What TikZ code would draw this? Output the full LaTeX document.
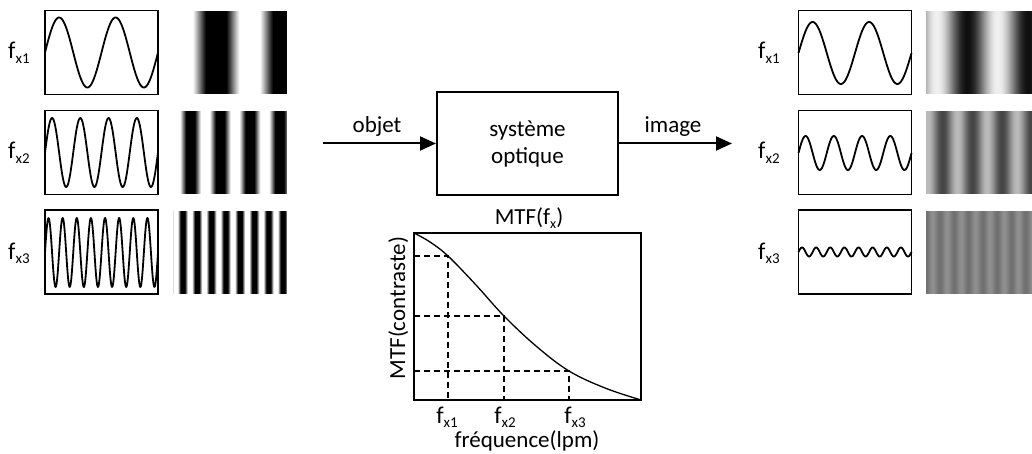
\documentclass[tikz,border=0pt]{standalone}
\usepackage{fontspec}
\setmainfont{Carlito}
\usetikzlibrary{arrows.meta}
\newcommand{\fsub}[1]{f\raisebox{-4.5pt}{\fontsize{15}{15}\selectfont #1}}
\newcommand{\drawgrating}[7]{% x0 x1 y0 y1 xwhite period amplitude
  \pgfmathtruncatemacro\gN{#2-#1-1}
  \pgfmathsetmacro\gk{360/#6}
  \foreach \i in {0,...,\gN}{
    \pgfmathsetmacro\gx{#1+\i}
    \pgfmathsetmacro\gxe{min(\gx+1.4,#2)}
    \pgfmathsetmacro\gv{max(0,min(1,0.5+#7*cos(\gk*(\gx+0.5-#5))))}
    \definecolor{gc}{gray}{\gv}
    \fill[gc] (\gx,#3) rectangle (\gxe,#4);
  }
}
\begin{document}
\begin{tikzpicture}[x=1pt,y=-1pt,
  txt/.style={font=\fontsize{23}{26}\selectfont, inner sep=0pt},
  lab/.style={font=\fontsize{24}{26}\selectfont, inner sep=0pt},
  panel/.style={draw=black, line width=1.8pt, inner sep=0pt, outer sep=0pt, minimum width=113pt, minimum height=84pt},
  wave/.style={line width=1.8pt, line join=round},
  sysbox/.style={draw=black, line width=2pt, inner sep=0pt, minimum width=181pt, minimum height=103pt, align=center, font=\fontsize{23}{27}\selectfont},
  graphbox/.style={draw=black, line width=2pt, inner sep=0pt, outer sep=0pt, minimum width=227pt, minimum height=167pt},
  arr/.style={line width=2pt, -{Triangle[length=16pt,width=14pt]}},
  dashline/.style={line width=1.5pt, dash pattern=on 6pt off 4pt},
]
\useasboundingbox (0,0) rectangle (1032,454);
\fill[white] (0,0) rectangle (1032,454);

% ---------- left: object panels ----------
\node[panel] (L1) at (101.5,52.5) {};
\node[panel] (L2) at (101.5,152.5) {};
\node[panel] (L3) at (101.5,252) {};
\draw[wave] plot[domain=45:158, samples=150] (\x, {52.5 - 35*sin((360/56.5)*(\x-45))});
\draw[wave] plot[domain=45:158, samples=200] (\x, {152.5 - 34.5*sin((360/28.25)*(\x-45))});
\draw[wave] plot[domain=45:158, samples=300] (\x, {252.5 - 34.5*sin((360/14.125)*(\x-45))});
\node[lab, anchor=base west] (lf1) at (8,59) {\fsub{x1}};
\node[lab, anchor=base west] (lf2) at (8,159) {\fsub{x2}};
\node[lab, anchor=base west] (lf3) at (8,259) {\fsub{x3}};

\drawgrating{173}{287}{11}{94}{183}{67}{0.85}
\drawgrating{173}{287}{111}{194}{176}{29.7}{0.8}
\drawgrating{173}{287}{211}{294}{176}{14.3}{0.8}

% ---------- centre: optical system ----------
\node[sysbox] (sys) at (527.5,143.5) {système\\optique};
\coordinate (in) at (323,143.5);
\coordinate (out) at (732,143.5);
\draw[arr] (in) -- (sys.west);
\draw[arr] (sys.east) -- (out);
\node[txt, anchor=base] (objet) at (377,133) {objet};
\node[txt, anchor=base] (image) at (673,133) {image};

% ---------- MTF graph ----------
\node[graphbox] (mtf) at (527.5,316.5) {};
\draw[line width=1.3pt] plot[smooth, tension=0.6] coordinates {(414,233) (430,242) (448,256) (476,285) (504,316) (536,346) (569,371) (605,388) (641,400)};
\coordinate (p1) at (448,256);
\coordinate (p2) at (504,316);
\coordinate (p3) at (569,371);
\foreach \p in {p1,p2,p3}{
  \draw[dashline] (mtf.west |- \p) -- (\p) -- (\p |- mtf.south);
}
\node[txt, anchor=base] (mtft) at (529,225) {MTF(f\raisebox{-4pt}{\fontsize{14}{14}\selectfont x})};
\node[txt, anchor=base, rotate=90] (ylab) at (405,308) {MTF(contraste)};
\node[lab, anchor=base] (fx1) at (447,423) {\fsub{x1}};
\node[lab, anchor=base] (fx2) at (505,423) {\fsub{x2}};
\node[lab, anchor=base] (fx3) at (575,423) {\fsub{x3}};
\node[txt, anchor=base] (xlab) at (527,447) {fréquence(lpm)};

% ---------- right: image panels ----------
\node[panel] (R1) at (855,52.5) {};
\node[panel] (R2) at (855,152.5) {};
\node[panel] (R3) at (855,252) {};
\draw[wave] plot[domain=798.5:911.5, samples=150] (\x, {53 - 31*sin((360/56.5)*(\x-798.5))});
\draw[wave] plot[domain=798.5:911.5, samples=200] (\x, {153 - 17*sin((360/28.25)*(\x-798.5))});
\draw[wave] plot[domain=798.5:911.5, samples=300] (\x, {252 - 4.5*sin((360/14.125)*(\x-798.5))});
\node[lab, anchor=base west] (rf1) at (758,59) {\fsub{x1}};
\node[lab, anchor=base west] (rf2) at (758,159) {\fsub{x2}};
\node[lab, anchor=base west] (rf3) at (758,259) {\fsub{x3}};

\drawgrating{926}{1032}{11}{94}{937}{61}{0.44}
\drawgrating{926}{1032}{111}{194}{928}{29.7}{0.23}
\drawgrating{926}{1032}{211}{294}{933}{14.3}{0.06}
\end{tikzpicture}
\end{document}
